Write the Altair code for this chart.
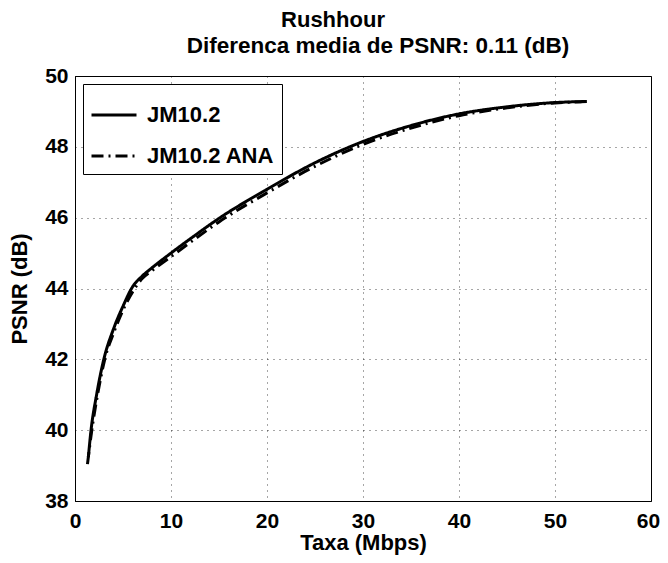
import altair as alt
import pandas as pd

# ---- data ----
series_names = ["JM10.2", "JM10.2 ANA"]

taxa_jm = [1.39, 1.67, 2.25, 3.0, 4.0, 5.0, 6.0, 7.0, 8.0, 10.0, 12.5, 15.0, 20.0, 25.0, 30.0, 35.0, 40.0, 45.0, 50.0, 53.3]
psnr_jm = [39.24, 40.0, 41.0, 42.0, 42.85, 43.5, 44.05, 44.35, 44.58, 45.0, 45.5, 45.98, 46.8, 47.55, 48.15, 48.6, 48.93, 49.13, 49.25, 49.28]

taxa_ana = [1.3, 1.75, 2.35, 3.1, 4.1, 5.1, 6.1, 7.0, 8.0, 10.0, 12.5, 15.0, 20.0, 25.0, 30.0, 35.0, 40.0, 45.0, 50.0, 53.4]
psnr_ana = [39.04, 40.0, 41.0, 42.0, 42.8, 43.45, 43.95, 44.28, 44.5, 44.9, 45.4, 45.88, 46.7, 47.45, 48.07, 48.53, 48.88, 49.1, 49.24, 49.28]

x_ticks = [0, 10, 20, 30, 40, 50, 60]
y_ticks = [38, 40, 42, 44, 46, 48, 50]

title_line1 = "Rushhour"
title_line2 = "Diferenca media de PSNR: 0.11 (dB)"
x_title = "Taxa (Mbps)"
y_title = "PSNR (dB)"

FONT = "Liberation Sans"

df = pd.concat([
    pd.DataFrame({"taxa": taxa_jm, "psnr": psnr_jm, "serie": series_names[0]}),
    pd.DataFrame({"taxa": taxa_ana, "psnr": psnr_ana, "serie": series_names[1]}),
])

x_enc = alt.X("taxa:Q", scale=alt.Scale(domain=[0, 60], nice=False, zero=False),
              axis=alt.Axis(values=x_ticks, title=x_title, format="d",
                            labelOffset={"condition": {"test": "datum.value == 60", "value": -3}, "value": 0}))
y_enc = alt.Y("psnr:Q", scale=alt.Scale(domain=[38, 50], nice=False, zero=False),
              axis=alt.Axis(values=y_ticks, title=y_title, format="d"))
dash_enc = alt.StrokeDash(
    "serie:N",
    scale=alt.Scale(domain=series_names, range=[[1, 0], [12, 5, 2, 5]]),
    legend=alt.Legend(title=None, orient="top-left", offset=8, symbolType="stroke",
                      symbolSize=2025, symbolStrokeWidth=3, symbolStrokeColor="black",
                      labelFont=FONT, labelFontSize=22, labelFontWeight="bold", labelColor="black",
                      labelOffset=9,
                      strokeColor="black", fillColor="white", padding=7, rowPadding=6,
                      labelLimit=300),
)

base = alt.Chart(df).mark_line(color="black", strokeWidth=3, interpolate="monotone").encode(
    x=x_enc, y=y_enc, strokeDash=dash_enc, order="taxa:Q"
)
line_jm = base.transform_filter(alt.datum.serie == series_names[0])
line_ana = base.transform_filter(alt.datum.serie == series_names[1])

titles = pd.DataFrame({"t": [title_line1, title_line2], "k": [0, 1]})
t1 = alt.Chart(titles).transform_filter(alt.datum.k == 0).mark_text(
    font=FONT, fontSize=22, fontWeight="bold", color="black", align="center", baseline="alphabetic"
).encode(text="t:N", x=alt.value(258), y=alt.value(-49))
t2 = alt.Chart(titles).transform_filter(alt.datum.k == 1).mark_text(
    font=FONT, fontSize=22.5, fontWeight="bold", color="black", align="center", baseline="alphabetic"
).encode(text="t:N", x=alt.value(303), y=alt.value(-23))

chart = alt.layer(line_ana, line_jm, t1, t2).properties(
    width=576, height=425,
    autosize=alt.AutoSizeParams(type="none"),
    padding={"left": 67, "top": 68, "right": 9, "bottom": 54},
).configure_view(
    stroke="black", strokeWidth=1
).configure_axis(
    labelFont=FONT, labelFontSize=21, labelFontWeight="bold", labelColor="black",
    titleFont=FONT, titleFontSize=22, titleFontWeight="bold", titleColor="black",
    domainColor="black", domainWidth=1,
    ticks=False, tickSize=0,
    grid=True, gridColor="black", gridOpacity=0.7, gridDash=[1, 5], gridWidth=1,
).configure_axisX(
    labelPadding=9, titlePadding=1, labelFlush=False
).configure_axisY(
    labelPadding=7, titlePadding=13, labelFlush=False
)

chart.save("out.html", embed_options={"renderer": "svg", "actions": False})
